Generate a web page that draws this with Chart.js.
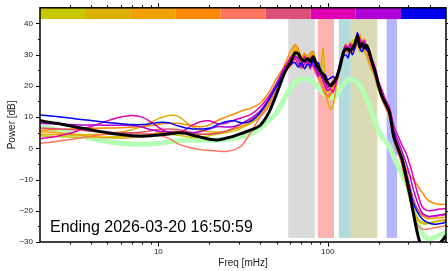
<!DOCTYPE html>
<html>
<head>
<meta charset="utf-8">
<script src="https://cdn.jsdelivr.net/npm/chart.js@4.4.1/dist/chart.umd.min.js"></script>
<style>
  html, body { margin:0; padding:0; background:#fff; }
  #wrap { width:448px; height:271px; }
</style>
</head>
<body>
<div id="wrap"><canvas id="psd" width="448" height="271"></canvas></div>
<script>
// frequency grid, mHz
const freqs = [2, 2.5, 3, 3.5, 4, 5, 6, 7, 8, 9, 10, 11.5, 13, 14.5, 16, 18, 20, 22.5, 25, 28, 31, 35, 40, 45, 50, 55,
  58, 61, 64, 67, 70, 73, 76, 79, 82, 85, 88, 91, 94, 97, 100, 104, 108, 112, 116, 120, 124, 128, 132, 136, 140, 145,
  150, 155, 160, 165, 170, 176, 182, 188, 194, 200,
  210, 220, 232, 245, 260, 275, 290, 305, 320, 340, 360, 380, 400, 425, 450, 475, 500];

// power, dB
const meanPower = [8.8, 8.0, 7.2, 6.5, 5.9, 5.0, 4.4, 4.0, 3.9, 4.0, 4.3, 4.6, 5.0, 4.8, 4.2, 3.5, 2.9, 2.7, 3.2, 3.9, 4.8, 5.8, 7.4, 11.5, 17.5, 23.5,
  26.0, 28.0, 30.5, 30.3, 28.5, 28.0, 28.8, 27.8, 29.3, 27.5, 25.8, 24.5, 23.5, 22.3, 21.0, 20.0, 21.0, 22.3, 24.5, 27.5, 30.8, 31.8, 31.8, 31.3,
  32.0, 33.5, 35.8, 32.5, 33.6, 32.2, 33.0, 30.8, 28.0, 25.5, 22.8, 20.0,
  16.5, 14.2, 11.5, 4.0, 0.0, -3.5, -9.0, -14.5, -20.5, -27.5, -32, -34, -34, -33, -31, -29.5, -28];

const refPower = [7.0, 6.0, 5.0, 4.0, 3.2, 2.2, 1.6, 1.4, 1.3, 1.4, 1.6, 2.0, 2.4, 2.6, 2.6, 2.6, 2.6, 2.7, 2.9, 3.3, 3.8, 4.5, 6.5, 9.0, 11.5, 15.5,
  17.8, 19.5, 21.0, 21.8, 22.2, 22.3, 22.2, 21.8, 21.3, 20.5, 19.5, 18.7, 17.8, 17.2, 16.7, 16.3, 16.3, 17.0, 18.2, 19.3, 20.5, 21.3, 21.8, 22.0,
  22.0, 21.7, 21.0, 20.0, 18.8, 17.5, 15.8, 13.8, 11.5, 9.5, 7.5, 5.8,
  3.5, 2.2, 0.5, -2.5, -5.5, -8.5, -11.0, -14.5, -18.5, -23.5, -27.0, -28.5, -29.0, -28.7, -28.0, -27.5, -27.0];

const p1 = [4.0, 3.8, 3.6, 3.5, 3.5, 3.6, 3.8, 4.0, 4.2, 4.5, 4.8, 4.6, 4.2, 3.8, 3.5, 3.6, 4.0, 4.6, 5.0, 5.5, 6.5, 8.0, 10.5, 14.5, 19.5, 24.5,
  27.0, 28.5, 30.5, 31.5, 28.0, 28.5, 30.0, 28.5, 31.0, 27.5, 25.0, 27.5, 24.0, 21.0, 18.5, 17.5, 19.0, 21.0, 24.5, 28.0, 31.5, 32.5, 33.0, 31.5,
  34.5, 33.0, 35.0, 32.0, 33.5, 33.0, 32.0, 29.5, 27.0, 24.5, 22.0, 19.5,
  16.0, 13.5, 10.5, 4.5, 0.0, -4.0, -9.5, -14.5, -19.0, -23.0, -24.0, -24.3, -24.0, -23.7, -23.4, -23.2, -23.0];
const p2 = [4.5, 4.4, 4.3, 4.3, 4.4, 4.7, 5.2, 6.0, 7.0, 8.3, 9.5, 10.5, 10.3, 8.5, 6.8, 5.7, 5.3, 5.2, 5.4, 6.2, 7.0, 8.0, 10.0, 14.0, 19.0, 24.0,
  26.5, 28.0, 33.0, 29.0, 27.0, 29.5, 27.0, 30.5, 27.0, 26.0, 23.0, 25.0, 32.0, 19.5, 15.0, 12.5, 14.0, 19.0, 23.0, 27.5, 30.0, 31.0, 32.5, 30.5,
  33.0, 31.5, 33.5, 31.0, 34.5, 31.0, 29.5, 27.0, 25.0, 23.5, 21.0, 18.5,
  15.5, 13.0, 9.5, 3.5, -1.0, -5.0, -10.5, -15.0, -19.0, -22.5, -23.5, -24.0, -23.8, -23.5, -23.2, -23.0, -22.8];
const p3 = [5.3, 5.0, 4.6, 4.2, 3.8, 3.4, 3.3, 3.5, 4.0, 4.5, 5.0, 5.3, 5.5, 5.2, 4.8, 4.5, 4.6, 5.0, 5.5, 6.2, 7.0, 8.5, 11.0, 15.0, 20.0, 25.5,
  27.0, 29.5, 31.5, 30.5, 27.5, 30.0, 27.5, 29.0, 30.0, 26.5, 23.5, 21.0, 18.5, 17.0, 16.0, 17.0, 19.5, 21.5, 24.0, 28.0, 31.0, 33.5, 31.5, 34.0,
  32.0, 35.0, 34.0, 36.5, 33.5, 34.0, 31.0, 28.5, 26.0, 24.0, 21.5, 19.0,
  16.0, 13.5, 10.0, 4.0, 0.0, -4.0, -9.0, -13.5, -17.0, -20.0, -21.5, -22.3, -22.5, -22.4, -22.3, -22.2, -22.0];
const p4 = [5.8, 6.0, 6.2, 6.3, 6.4, 6.5, 6.6, 6.8, 7.0, 7.3, 7.7, 8.0, 8.0, 7.6, 7.2, 6.9, 7.5, 9.0, 10.0, 11.0, 12.0, 12.8, 14.5, 18.0, 22.5, 26.0,
  29.0, 31.5, 33.2, 32.0, 29.0, 30.5, 28.5, 30.5, 31.0, 28.0, 26.0, 22.5, 19.0, 17.5, 16.5, 17.5, 20.0, 21.5, 25.0, 29.0, 31.5, 33.0, 32.0, 33.5,
  32.5, 34.5, 33.5, 35.5, 34.0, 35.0, 31.5, 29.0, 26.5, 24.5, 22.0, 19.5,
  16.5, 14.0, 10.5, 5.0, 1.0, -3.0, -6.5, -8.5, -10.0, -12.0, -14.0, -15.8, -17.0, -17.6, -17.9, -18.0, -17.8];
const p5 = [1.6, 2.2, 2.8, 3.4, 3.9, 4.5, 4.8, 4.8, 4.7, 4.6, 4.2, 3.2, 1.5, 0.6, 0.0, -0.5, -0.7, -0.9, -1.0, -0.5, 0.8, 5.0, 10.0, 13.5, 19.5, 23.5,
  25.5, 26.5, 28.5, 27.0, 25.5, 27.0, 26.0, 27.5, 26.0, 24.0, 22.5, 21.0, 19.5, 18.0, 17.0, 17.5, 18.5, 20.5, 23.5, 27.0, 29.5, 31.5, 30.5, 32.0,
  31.0, 33.0, 34.0, 32.5, 33.5, 32.0, 31.0, 28.5, 26.0, 24.0, 21.5, 19.0,
  15.5, 13.0, 10.0, 3.0, -1.5, -5.5, -11.0, -16.0, -20.5, -24.5, -25.8, -26.0, -25.8, -25.5, -25.2, -25.0, -24.6];
const p6 = [6.5, 6.3, 6.0, 5.8, 5.5, 5.2, 5.0, 5.0, 5.2, 5.6, 6.0, 6.2, 6.0, 5.5, 5.0, 4.6, 4.5, 4.8, 5.5, 6.5, 7.8, 9.0, 11.5, 15.5, 20.5, 25.0,
  26.5, 28.5, 29.5, 29.0, 27.0, 28.0, 28.5, 27.0, 29.5, 26.5, 24.5, 23.0, 22.0, 20.0, 18.5, 19.5, 20.5, 22.0, 24.5, 28.0, 30.5, 32.0, 31.5, 33.0,
  32.0, 34.0, 35.0, 33.5, 34.5, 33.0, 32.5, 30.0, 27.5, 25.0, 22.5, 20.0,
  16.5, 14.0, 11.0, 5.0, 1.0, -2.5, -7.0, -11.5, -16.0, -19.5, -21.0, -21.8, -22.0, -21.8, -21.6, -21.5, -21.3];
const p7 = [3.1, 3.8, 4.8, 6.0, 7.0, 8.8, 10.0, 10.5, 10.0, 8.5, 6.8, 4.9, 5.0, 6.0, 7.5, 8.6, 8.8, 7.9, 8.0, 9.0, 9.8, 10.8, 13.3, 16.8, 21.0, 25.5,
  27.5, 29.5, 29.0, 27.0, 26.5, 29.5, 27.0, 29.0, 26.5, 25.0, 23.0, 25.5, 21.5, 19.5, 18.5, 19.0, 18.0, 21.0, 24.0, 28.5, 31.5, 33.0, 32.0, 33.5,
  31.5, 34.0, 36.5, 35.0, 33.0, 34.5, 32.0, 31.5, 29.0, 27.0, 24.5, 21.5,
  18.5, 15.5, 13.0, 7.5, 4.0, 1.0, -1.5, -5.0, -9.0, -14.5, -18.5, -19.8, -20.0, -19.8, -19.5, -19.4, -19.3];
const p8 = [8.0, 7.8, 7.6, 7.5, 7.5, 7.4, 7.4, 7.3, 6.8, 6.0, 5.5, 5.3, 5.0, 4.8, 5.0, 5.5, 6.2, 7.0, 6.8, 7.0, 8.0, 9.5, 12.0, 16.0, 20.5, 25.0,
  26.5, 27.0, 29.5, 28.5, 26.0, 27.0, 28.5, 25.5, 28.5, 26.0, 24.0, 23.5, 22.0, 21.0, 19.5, 20.5, 21.5, 22.5, 25.5, 29.0, 30.5, 32.5, 31.0, 32.0,
  33.0, 32.0, 35.0, 33.5, 32.0, 33.5, 32.5, 30.0, 27.5, 25.0, 23.0, 20.5,
  17.0, 14.5, 12.0, 6.0, 2.5, -1.0, -4.5, -8.5, -13.0, -17.5, -20.5, -21.5, -21.8, -21.6, -21.4, -21.2, -21.0];
const p9 = [10.7, 10.2, 9.7, 9.2, 8.9, 8.3, 7.9, 7.6, 7.6, 7.9, 8.3, 8.2, 7.2, 6.5, 6.2, 6.2, 6.4, 7.6, 8.5, 8.8, 8.2, 8.6, 11.5, 15.5, 20.0, 24.0,
  26.0, 27.0, 27.5, 26.0, 27.5, 25.5, 27.0, 26.5, 28.0, 26.0, 27.5, 25.0, 24.0, 23.5, 22.0, 22.5, 23.0, 22.0, 25.0, 28.5, 29.5, 30.0, 29.0, 31.5,
  30.0, 32.5, 37.0, 32.0, 31.0, 32.5, 31.5, 31.0, 28.5, 26.0, 23.5, 20.5,
  17.0, 14.5, 11.5, 5.0, 0.5, -3.0, -8.0, -13.0, -17.5, -20.5, -22.5, -23.5, -24.0, -24.3, -24.2, -24.0, -23.5];

const pieceColors = ['#c8c800', '#dcb000', '#f0a000', '#ff8800', '#ff7560', '#dc4f78', '#e000b4', '#b000d8', '#0000f0'];

// colour strip along the top, edges in mHz
const stripEdges = [2, 3.69, 6.82, 12.6, 23.3, 43.0, 79.4, 146.7, 270.9, 500];

// shaded frequency bands
const bandLo = [58.5, 87.5, 116.5, 137, 223];
const bandHi = [84, 109, 137, 196.5, 257];
const bandColors = ['#dadada', '#ffb2b2', '#b2dcdc', '#dadab4', '#b4b4ff'];

const xLabelTicks = [10, 100];
const xMinorTicks = [3, 4, 5, 6, 7, 8, 9, 20, 30, 40, 50, 60, 70, 80, 90, 200, 300, 400];
const yLabelTicks = [-30, -20, -10, 0, 10, 20, 30, 40];
const yMinorTicks = [-25, -15, -5, 5, 15, 25, 35];

const stampText = "Ending 2026-03-20 16:50:59";
const FONT = "'Liberation Sans', Arial, Helvetica, sans-serif";

function toPoints(values){
  return freqs.map((f, i) => ({x: f, y: values[i]}));
}

const decor = {
  id: 'decor',
  beforeDatasetsDraw(chart){
    const {ctx, chartArea: a, scales: {x, y}} = chart;
    ctx.save();
    const yTop = y.getPixelForValue(41.4);
    const yBot = y.getPixelForValue(-28.7);
    bandLo.forEach((lo, i) => {
      const x0 = x.getPixelForValue(lo);
      const x1 = x.getPixelForValue(bandHi[i]);
      ctx.fillStyle = bandColors[i];
      ctx.fillRect(x0, yTop, x1 - x0, yBot - yTop);
    });
    for(let i = 0; i < pieceColors.length; i++){
      const x0 = x.getPixelForValue(stripEdges[i]);
      const x1 = x.getPixelForValue(stripEdges[i + 1]);
      ctx.fillStyle = pieceColors[i];
      ctx.fillRect(x0, a.top, x1 - x0, yTop - a.top);
    }
    ctx.restore();
  },
  afterDraw(chart){
    const {ctx, chartArea: a, scales: {x, y}} = chart;
    ctx.save();
    ctx.strokeStyle = '#000';
    ctx.lineWidth = 1.5;
    ctx.strokeRect(a.left, a.top, a.right - a.left, a.bottom - a.top);

    ctx.lineWidth = 1;
    ctx.beginPath();
    const xt = (v, len) => {
      const px = Math.round(x.getPixelForValue(v)) + 0.5;
      ctx.moveTo(px, a.bottom); ctx.lineTo(px, a.bottom + len);
      ctx.moveTo(px, a.top); ctx.lineTo(px, a.top - len);
    };
    xLabelTicks.forEach(v => xt(v, 4.5));
    xMinorTicks.forEach(v => xt(v, 2.5));
    const yt = (v, len) => {
      const py = Math.round(y.getPixelForValue(v)) + 0.5;
      ctx.moveTo(a.left, py); ctx.lineTo(a.left - len, py);
      ctx.moveTo(a.right, py); ctx.lineTo(a.right + len, py);
    };
    yLabelTicks.forEach(v => yt(v, 4));
    yMinorTicks.forEach(v => yt(v, 2));
    ctx.stroke();

    ctx.fillStyle = '#000';
    ctx.font = "16px " + FONT;
    ctx.textAlign = 'left';
    ctx.textBaseline = 'alphabetic';
    ctx.fillText(stampText, 50, 231.5);
    ctx.restore();
  }
};

const lineSet = [
  {label: 'mean', data: meanPower, color: '#000000', width: 3},
  {label: 'p9', data: p9, color: pieceColors[8], width: 1.5},
  {label: 'p8', data: p8, color: pieceColors[7], width: 1.5},
  {label: 'p7', data: p7, color: pieceColors[6], width: 1.5},
  {label: 'p6', data: p6, color: pieceColors[5], width: 1.5},
  {label: 'p5', data: p5, color: pieceColors[4], width: 1.5},
  {label: 'p4', data: p4, color: pieceColors[3], width: 1.5},
  {label: 'p3', data: p3, color: pieceColors[2], width: 1.5},
  {label: 'p2', data: p2, color: pieceColors[1], width: 1.5},
  {label: 'p1', data: p1, color: pieceColors[0], width: 1.5},
  {label: 'reference', data: refPower, color: '#b4ffb4', width: 5}
];

function init(){
  const ctx = document.getElementById('psd').getContext('2d');
  new Chart(ctx, {
    type: 'line',
    data: {
      datasets: lineSet.map(s => ({
        label: s.label,
        data: toPoints(s.data),
        borderColor: s.color,
        borderWidth: s.width,
        pointRadius: 0,
        fill: false,
        tension: 0.3
      }))
    },
    options: {
      responsive: false,
      animation: false,
      devicePixelRatio: 1,
      layout: { padding: { top: 4, right: 2, left: 0, bottom: 0 } },
      plugins: { legend: { display: false }, tooltip: { enabled: false } },
      scales: {
        x: {
          type: 'logarithmic',
          min: 2, max: 500,
          afterBuildTicks: s => { s.ticks = xLabelTicks.map(v => ({value: v})); },
          afterFit: s => { s.height = 29; },
          grid: { display: false, drawTicks: true, tickLength: 4 },
          border: { display: false },
          ticks: { font: { family: FONT, size: 8 }, color: '#222', padding: 1, maxRotation: 0, autoSkip: false,
                   callback: v => String(v) },
          title: { display: true, text: 'Freq [mHz]', color: '#222', font: { family: FONT, size: 10 },
                   padding: { top: 0, bottom: 2 } }
        },
        y: {
          type: 'linear',
          min: -30, max: 45,
          afterBuildTicks: s => { s.ticks = yLabelTicks.map(v => ({value: v})); },
          afterFit: s => { s.width = 40; },
          grid: { display: false, drawTicks: true, tickLength: 4 },
          border: { display: false },
          ticks: { font: { family: FONT, size: 8 }, color: '#222', padding: 3,
                   callback: v => v < 0 ? '\u2212' + Math.abs(v) : String(v) },
          title: { display: true, text: 'Power [dB]', color: '#222', font: { family: FONT, size: 10 },
                   padding: { top: 6, bottom: 0 } }
        }
      }
    },
    plugins: [decor]
  });
}

init();
</script>
</body>
</html>
